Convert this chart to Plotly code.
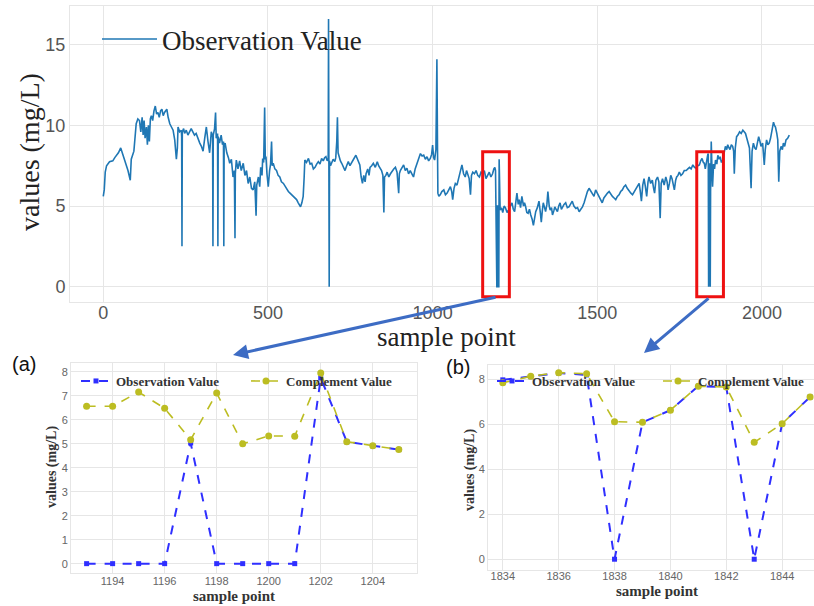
import plotly.graph_objects as go

W, H = 814, 606

# ---------------- data ----------------
obs_x = [0, 3, 6, 10, 19, 29, 35, 40, 46, 53, 58, 65, 70, 75, 82, 85, 93, 97, 100, 105,
         110, 114, 118, 121, 124, 127, 131, 134, 137, 140, 143, 146, 150, 154, 158, 162, 166, 170, 174, 178,
         182, 186, 190, 193, 197, 202, 207, 212, 217, 222, 225, 227, 232, 237, 238, 239, 240, 244, 247, 252,
         257, 262, 267, 272, 277, 282, 288, 293, 298, 303, 308, 313, 318, 323, 328, 332, 333, 334, 338, 341,
         343, 347, 348, 349, 353, 358, 362, 365, 366, 367, 370, 375, 380, 384, 389, 394, 398, 400, 401, 404,
         409, 414, 419, 425, 430, 435, 440, 445, 450, 455, 460, 464, 466, 471, 475, 478, 482, 484, 487, 490,
         492, 494, 497, 501, 505, 508, 511, 513, 516, 521, 526, 531, 536, 541, 547, 552, 557, 562, 567, 572,
         577, 582, 587, 592, 596, 599, 603, 607, 610, 612, 617, 623, 628, 633, 638, 643, 648, 653, 658, 663,
         668, 672, 676, 680, 683, 684, 685, 686, 687, 690, 693, 698, 703, 706, 709, 711, 713, 716, 720, 724,
         729, 734, 739, 744, 749, 754, 760, 767, 773, 779, 783, 787, 791, 795, 798, 803, 807, 810, 815, 820,
         826, 832, 836, 841, 845, 849, 852, 854, 858, 862, 867, 872, 877, 882, 887, 892, 897, 899, 902, 907,
         912, 917, 922, 927, 932, 937, 942, 947, 953, 958, 963, 968, 973, 978, 983, 988, 993, 997, 1000, 1003,
         1006, 1010, 1013, 1015, 1016, 1019, 1023, 1028, 1034, 1039, 1044, 1049, 1054, 1058, 1061, 1065, 1069, 1074, 1079, 1084,
         1089, 1094, 1099, 1103, 1107, 1111, 1115, 1118, 1122, 1127, 1132, 1137, 1142, 1147, 1152, 1157, 1162, 1167, 1172, 1177,
         1182, 1186, 1189, 1191, 1193, 1194, 1195, 1196, 1197, 1198, 1199, 1200, 1201, 1202, 1203, 1204, 1205, 1209, 1213, 1217,
         1221, 1226, 1231, 1236, 1241, 1245, 1249, 1253, 1256, 1260, 1263, 1267, 1271, 1276, 1279, 1282, 1286, 1290, 1294, 1298,
         1302, 1306, 1310, 1313, 1318, 1323, 1327, 1330, 1333, 1336, 1340, 1343, 1347, 1350, 1354, 1357, 1361, 1364, 1368, 1371,
         1375, 1379, 1383, 1387, 1391, 1394, 1399, 1404, 1409, 1414, 1419, 1424, 1429, 1435, 1440, 1445, 1450, 1455, 1460, 1465,
         1470, 1475, 1480, 1485, 1490, 1495, 1500, 1505, 1510, 1515, 1520, 1526, 1531, 1536, 1541, 1546, 1551, 1556, 1561, 1566,
         1571, 1576, 1581, 1586, 1591, 1597, 1602, 1607, 1612, 1617, 1622, 1627, 1630, 1634, 1638, 1642, 1646, 1650, 1654, 1657,
         1662, 1667, 1671, 1674, 1678, 1683, 1687, 1691, 1694, 1698, 1703, 1708, 1712, 1715, 1719, 1723, 1727, 1731, 1734, 1738,
         1741, 1745, 1749, 1754, 1759, 1764, 1770, 1775, 1780, 1785, 1790, 1795, 1800, 1805, 1810, 1814, 1818, 1822, 1825, 1828,
         1831, 1834, 1835, 1836, 1837, 1838, 1839, 1840, 1841, 1842, 1843, 1844, 1845, 1846, 1848, 1850, 1853, 1856, 1859, 1863,
         1866, 1870, 1873, 1877, 1881, 1885, 1889, 1893, 1896, 1900, 1903, 1907, 1911, 1914, 1916, 1919, 1923, 1927, 1932, 1937,
         1942, 1946, 1950, 1954, 1957, 1962, 1967, 1970, 1974, 1978, 1982, 1986, 1990, 1994, 1997, 2002, 2007, 2010, 2014, 2018,
         2022, 2026, 2031, 2035, 2038, 2041, 2045, 2048, 2051, 2054, 2058, 2062, 2065, 2069, 2073, 2078, 2083]

obs_y = [5.6, 6.0, 7.1, 7.5, 7.75, 7.8, 8.0, 8.15, 8.3, 8.6, 8.3, 7.85, 7.6, 7.2, 6.6, 7.9, 8.4, 9.3, 10.1, 10.4,
         10.3, 9.6, 10.5, 9.4, 10.3, 9.2, 9.9, 8.8, 10.0, 9.0, 10.4, 10.6, 10.3, 10.9, 11.2, 10.7, 10.8, 10.5, 10.9, 11.0,
         10.6, 10.8, 10.9, 11.0, 10.5, 10.1, 9.9, 9.7, 9.1, 7.9, 8.6, 9.9, 9.6, 9.7, 9.3, 2.5, 9.6, 9.8, 9.5, 9.7,
         9.4, 9.6, 9.8, 9.6, 9.4, 9.5, 9.1, 8.9, 8.7, 8.4, 9.2, 9.9, 9.0, 8.3, 9.6, 9.3, 2.5, 9.4, 9.8, 10.8,
         9.2, 9.5, 2.5, 9.3, 8.9, 9.4, 8.8, 9.0, 2.5, 8.8, 8.9, 8.3, 8.0, 7.65, 7.9, 6.8, 7.2, 3.0, 7.0, 7.85,
         7.3, 7.8, 7.2, 7.65, 6.9, 7.2, 6.4, 6.8, 6.1, 6.0, 6.5, 4.4, 6.3, 6.8, 6.2, 7.4, 6.9, 7.95, 7.7, 11.1,
         7.9, 8.06, 7.0, 6.2, 7.2, 7.6, 9.0, 7.5, 7.65, 7.3, 7.2, 6.9, 6.8, 6.5, 6.4, 6.2, 6.0, 5.9, 5.8, 5.7,
         5.6, 5.45, 5.4, 5.2, 5.0, 4.95, 5.2, 5.6, 6.8, 7.85, 7.7, 7.95, 7.6, 7.65, 7.3, 7.4, 7.6, 7.75, 7.6, 7.95,
         7.8, 8.0, 8.06, 7.8, 7.95, 16.6, 7.9, 0.0, 7.8, 7.5, 7.65, 7.9, 7.75, 8.0, 9.0, 10.5, 8.3, 8.06, 7.8, 7.65,
         7.4, 7.2, 7.5, 7.75, 7.5, 7.65, 7.9, 8.15, 7.8, 7.55, 6.8, 6.4, 6.9, 6.5, 7.0, 7.3, 6.9, 7.4, 7.5, 7.65,
         7.4, 7.75, 7.5, 7.3, 7.2, 6.9, 4.6, 6.8, 6.9, 7.1, 6.8, 7.0, 7.2, 7.3, 7.4, 7.1, 5.8, 7.0, 7.2, 7.4,
         7.55, 7.2, 7.35, 7.0, 7.2, 7.0, 6.8, 7.3, 7.65, 7.9, 8.25, 8.1, 8.15, 7.9, 8.06, 7.8, 7.95, 8.2, 8.78, 8.0,
         7.85, 8.5, 14.1, 8.3, 5.8, 5.6, 5.7, 5.9, 6.0, 5.7, 5.8, 6.0, 6.2, 5.9, 5.4, 6.1, 6.4, 6.3, 6.7, 7.0,
         7.55, 7.0, 6.8, 7.2, 7.0, 6.7, 5.7, 6.9, 7.1, 7.0, 7.2, 6.9, 6.8, 7.1, 7.0, 7.2, 6.7, 6.9, 7.1, 6.8,
         7.0, 7.3, 7.4, 7.2, 0.0, 0.0, 0.0, 0.0, 5.05, 0.0, 0.0, 0.0, 0.0, 7.9, 5.05, 4.9, 4.75, 4.9, 4.6, 5.0,
         4.9, 4.6, 4.75, 5.0, 5.2, 4.8, 4.65, 5.3, 5.8, 5.1, 5.4, 4.9, 5.6, 5.0, 5.2, 5.0, 4.6, 4.55, 4.8, 4.45,
         4.2, 3.8, 4.3, 4.65, 4.9, 5.3, 4.6, 4.0, 4.7, 5.2, 4.9, 4.65, 5.1, 5.9, 5.0, 4.75, 4.9, 4.45, 4.7, 4.95,
         4.8, 4.65, 5.0, 5.2, 4.8, 4.95, 5.1, 5.2, 4.9, 4.95, 5.1, 5.3, 5.0, 4.85, 4.9, 4.65, 4.8, 4.95, 5.2, 5.6,
         5.9, 6.1, 5.9, 5.8, 5.6, 6.0, 5.8, 5.6, 5.4, 5.2, 5.5, 5.7, 5.8, 5.9, 5.7, 5.6, 5.5, 5.4, 5.6, 5.7,
         5.9, 6.0, 6.2, 6.3, 6.1, 5.9, 5.8, 5.7, 5.9, 6.1, 6.3, 6.4, 6.0, 5.3, 6.3, 6.7, 6.2, 5.6, 6.5, 6.8,
         6.4, 6.6, 6.1, 5.8, 6.6, 6.8, 6.5, 4.25, 6.4, 6.7, 6.3, 6.8, 6.5, 6.0, 6.4, 6.9, 6.7, 6.3, 6.0, 6.6,
         6.8, 6.9, 7.1, 6.9, 7.0, 7.2, 7.2, 7.3, 7.4, 7.3, 7.55, 7.4, 7.35, 7.5, 7.55, 7.8, 7.95, 7.7, 7.65, 7.3,
         7.6, 7.85, 8.1, 8.25, 8.2, 0.0, 6.05, 6.6, 7.65, 7.6, 0.0, 6.0, 7.2, 9.0, 7.5, 6.2, 7.6, 7.3, 7.85, 7.6,
         8.15, 7.9, 8.06, 7.7, 7.85, 8.3, 8.7, 8.5, 8.8, 8.6, 8.5, 8.8, 8.7, 8.4, 7.0, 8.6, 9.3, 9.4, 9.6, 9.5,
         9.7, 9.6, 9.5, 9.2, 8.9, 8.6, 6.1, 8.4, 8.9, 8.6, 8.5, 8.9, 9.3, 9.0, 8.7, 8.9, 7.55, 8.5, 9.1, 8.8,
         8.9, 9.2, 9.7, 10.2, 10.0, 9.9, 9.5, 9.1, 6.5, 8.4, 8.7, 8.5, 8.9, 8.7, 9.1, 9.2, 9.4]

# panel (a)
a_x = [1193, 1194, 1195, 1196, 1197, 1198, 1199, 1200, 1201, 1202, 1203, 1204, 1205]
a_obs = [0, 0, 0, 0, 5.03, 0, 0, 0, 0, 7.75, 5.09, 4.92, 4.76]
a_comp = [6.57, 6.57, 7.16, 6.48, 5.17, 7.12, 5.0, 5.33, 5.32, 7.96, 5.09, 4.92, 4.76]

# panel (b)
b_x = [1834, 1835, 1836, 1837, 1838, 1839, 1840, 1841, 1842, 1843, 1844, 1845]
b_obs = [7.98, 8.12, 8.28, 8.2, 0, 6.09, 6.63, 7.7, 7.66, 0, 6.03, 7.22]
b_comp = [7.85, 8.14, 8.3, 8.25, 6.12, 6.09, 6.63, 7.7, 7.66, 5.2, 6.03, 7.22]

top_xticks = [0, 500, 1000, 1500, 2000]
top_yticks = [0, 5, 10, 15]
a_xticks = [1194, 1196, 1198, 1200, 1202, 1204]
a_yticks = [0, 1, 2, 3, 4, 5, 6, 7, 8]
b_xticks = [1834, 1836, 1838, 1840, 1842, 1844]
b_yticks = [0, 2, 4, 6, 8]

# zoomed windows (data coordinates of the top chart)
win_a = (1152, 1233)
win_b = (1802, 1883)
win_y = (-0.62, 8.37)

# ---------------- helpers ----------------
def px_x(p):
    return p / W

def px_y(p):
    return 1 - p / H

SERIF = "Liberation Serif, Times New Roman, serif"
SANS = "Liberation Sans, Arial, sans-serif"
GRID = "#e6e6e6"
BLUE_D = "#2f2fff"
OLIVE = "#bcbd22"

fig = go.Figure()

fig.add_trace(go.Scatter(x=obs_x, y=obs_y, mode="lines", name="Observation Value",
                         line=dict(color="#1f77b4", width=1.6),
                         xaxis="x", yaxis="y", legend="legend"))

fig.add_trace(go.Scatter(x=a_x, y=a_obs, mode="lines+markers", name="Observation Value",
                         line=dict(color=BLUE_D, width=2, dash="dash"),
                         marker=dict(symbol="square", size=5, color=BLUE_D),
                         xaxis="x2", yaxis="y2", legend="legend2"))
fig.add_trace(go.Scatter(x=a_x, y=a_comp, mode="lines+markers", name="Complement Value",
                         line=dict(color=OLIVE, width=1.6, dash="dash"),
                         marker=dict(symbol="circle", size=7, color=OLIVE),
                         xaxis="x2", yaxis="y2", legend="legend2"))

fig.add_trace(go.Scatter(x=b_x, y=b_obs, mode="lines+markers", name="Observation Value",
                         line=dict(color=BLUE_D, width=2, dash="dash"),
                         marker=dict(symbol="square", size=5, color=BLUE_D),
                         xaxis="x3", yaxis="y3", legend="legend3"))
fig.add_trace(go.Scatter(x=b_x, y=b_comp, mode="lines+markers", name="Complement Value",
                         line=dict(color=OLIVE, width=1.6, dash="dash"),
                         marker=dict(symbol="circle", size=7, color=OLIVE),
                         xaxis="x3", yaxis="y3", legend="legend3"))

axis_common = dict(showgrid=True, gridcolor=GRID, gridwidth=1, zeroline=False,
                   showline=True, linecolor=GRID, mirror=True, ticks="")

fig.update_layout(
    width=W, height=H,
    margin=dict(l=0, r=0, t=0, b=0, autoexpand=False),
    paper_bgcolor="white", plot_bgcolor="white",
    xaxis=dict(domain=[px_x(70), 1.0], range=[-101, 2158], tickvals=top_xticks,
               ticklabelstandoff=-5,
               tickfont=dict(family=SANS, size=18, color="#555555"), anchor="y", **axis_common),
    yaxis=dict(domain=[px_y(301.7), px_y(6)], range=[-0.93, 17.4], tickvals=top_yticks,
               tickfont=dict(family=SANS, size=18, color="#555555"), anchor="x", **axis_common),
    xaxis2=dict(domain=[px_x(71), px_x(417)], range=[1192.4, 1205.7], tickvals=a_xticks,
                ticklabelstandoff=-2,
                tickfont=dict(family=SANS, size=11, color="#666666"), anchor="y2", **axis_common),
    yaxis2=dict(domain=[px_y(573), px_y(363.3)], range=[-0.39, 8.36], tickvals=a_yticks,
                tickfont=dict(family=SANS, size=11, color="#666666"), anchor="x2", **axis_common),
    xaxis3=dict(domain=[px_x(488), 1.0], range=[1833.47, 1845.14], tickvals=b_xticks,
                ticklabelstandoff=-4,
                tickfont=dict(family=SANS, size=11, color="#666666"), anchor="y3", **axis_common),
    yaxis3=dict(domain=[px_y(570), px_y(365)], range=[-0.48, 8.64], tickvals=b_yticks,
                tickfont=dict(family=SANS, size=11, color="#666666"), anchor="x3", **axis_common),
    legend=dict(x=px_x(97), y=px_y(15), xanchor="left", yanchor="top",
                bgcolor="rgba(0,0,0,0)", font=dict(family=SERIF, size=27, color="#222222"),
                itemwidth=55),
    legend2=dict(x=px_x(76), y=px_y(366), xanchor="left", yanchor="top", orientation="h",
                 bgcolor="rgba(0,0,0,0)", font=dict(family=SERIF, size=13, color="#333333", weight="bold"),
                 entrywidth=125, entrywidthmode="pixels"),
    legend3=dict(x=px_x(492), y=px_y(366), xanchor="left", yanchor="top", orientation="h",
                 bgcolor="rgba(0,0,0,0)", font=dict(family=SERIF, size=13, color="#333333", weight="bold"),
                 entrywidth=121, entrywidthmode="pixels"),
    showlegend=True,
)

# red boxes marking the zoomed windows
for (x0, x1) in (win_a, win_b):
    fig.add_shape(type="rect", xref="x", yref="y", x0=x0, x1=x1, y0=win_y[0], y1=win_y[1],
                  line=dict(color="#ee1111", width=3), fillcolor="rgba(0,0,0,0)", layer="above")

def label(text, x, y, size, family, angle=0, color="#222222"):
    return dict(text=text, x=px_x(x), y=px_y(y), xref="paper", yref="paper",
                xanchor="center", yanchor="middle", textangle=angle, showarrow=False,
                font=dict(family=family, size=size, color=color))

ann = []
# axis titles
ann.append(label("values (mg/L)", 30, 152, 28, SERIF, -90))
ann.append(label("sample point", 447, 337, 27, SERIF))
ann.append(label("<b>values (mg/L)</b>", 52, 467, 14, SERIF, -90, "#333333"))
ann.append(label("<b>sample point</b>", 234, 596, 15, SERIF, 0, "#333333"))
ann.append(label("<b>values (mg/L)</b>", 470, 470, 14, SERIF, -90, "#333333"))
ann.append(label("<b>sample point</b>", 657, 591, 15, SERIF, 0, "#333333"))
# panel letters
ann.append(label("(a)", 24, 364, 20, SANS, 0, "#111111"))
ann.append(label("(b)", 458, 367, 20, SANS, 0, "#111111"))
# arrows from the windows to the panels
ann.append(dict(text="", x=px_x(233), y=px_y(355), xref="paper", yref="paper",
                ax=264, ay=-58, axref="pixel", ayref="pixel", showarrow=True,
                arrowhead=2, arrowsize=1, arrowwidth=3, arrowcolor="#3d6cc4"))
ann.append(dict(text="", x=px_x(644), y=px_y(353), xref="paper", yref="paper",
                ax=66, ay=-56, axref="pixel", ayref="pixel", showarrow=True,
                arrowhead=2, arrowsize=1, arrowwidth=3, arrowcolor="#3d6cc4"))
fig.update_layout(annotations=ann)

fig.write_html("out.html")
